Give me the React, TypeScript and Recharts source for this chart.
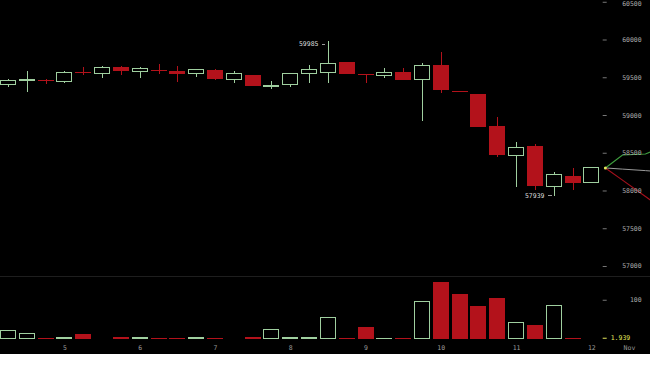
import React from 'react';
import { ComposedChart, Bar, Line, XAxis, YAxis, ReferenceDot } from 'recharts';

// 6h candles, Nov 4 -> Nov 12
const opens = [59411, 59470, 59475, 59457, 59578, 59563, 59642, 59589, 59605, 59589, 59550, 59603, 59483, 59536, 59398, 59417, 59550, 59576, 59709, 59553, 59536, 59576, 59483, 59669, 59328, 59285, 58861, 58464, 58596, 58066, 58199, 58106];
const highs = [59483, 59589, 59483, 59593, 59647, 59650, 59656, 59646, 59682, 59656, 59616, 59610, 59593, 59540, 59461, 59555, 59665, 59985, 59712, 59555, 59629, 59629, 59695, 59841, 59330, 59290, 58980, 58649, 58623, 58252, 58305, 58310];
const lows = [59377, 59311, 59417, 59434, 59532, 59497, 59536, 59497, 59550, 59444, 59514, 59475, 59434, 59385, 59347, 59381, 59434, 59430, 59545, 59430, 59497, 59465, 58927, 59298, 59318, 58843, 58450, 58053, 58013, 57939, 58013, 58100];
const closes = [59470, 59475, 59468, 59576, 59572, 59642, 59589, 59629, 59600, 59550, 59603, 59483, 59550, 59391, 59404, 59550, 59603, 59695, 59550, 59547, 59576, 59470, 59656, 59338, 59322, 58848, 58477, 58570, 58066, 58225, 58106, 58305];
const volumes = [24, 15, 3, 4, 13, 1.5, 4, 4, 2, 2, 4, 2, 2, 4, 27, 4, 4, 57, 3, 32, 3, 3, 99, 146, 115, 86, 105, 43, 37, 89, 3, 1.939];

const dayTicks = [3, 7, 11, 15, 19, 23, 27, 31, 33];
const dayLabels = ['5', '6', '7', '8', '9', '10', '11', '12', 'Nov'];

const priceTicks = [57000, 57500, 58000, 58500, 59000, 59500, 60000, 60500];
const volumeTicks = [100];

// projection fan after the last candle (x in candle slots)
const forecastX = [31.72, 32.63, 33.85, 34.11];
const forecastUp = [58305, 58477, 58490, 58517];
const forecastMid = [58305, 58290, 58270, 58265];
const forecastDown = [58305, 58144, 57927, 57881];

const SLOTS = 35;
const SLOT_W = 18.82;
const CHART_W = SLOTS * SLOT_W;
const UP = '#9fcf9f';
const DOWN = '#b3121b';
const FONT = '"DejaVu Sans Mono", monospace';

const rows = Array.from({ length: SLOTS }, (_, i) =>
  i < opens.length
    ? { i, open: opens[i], high: highs[i], low: lows[i], close: closes[i], volume: volumes[i] }
    : { i }
);

const forecast = forecastX.map((x, k) => ({
  x,
  up: forecastUp[k],
  mid: forecastMid[k],
  down: forecastDown[k],
}));

const maxHigh = Math.max(...highs);
const minLow = Math.min(...lows);
const lastVol = volumes[volumes.length - 1];

function Candle(props: any) {
  const { x, y, width, height, payload } = props;
  if (payload?.open == null || height == null || isNaN(height)) return null;
  const top = Math.min(y, y + height);
  const h = Math.abs(height);
  const { open, close, high, low } = payload;
  const k = high > low ? h / (high - low) : 0;
  const py = (v: number) => top + (high - v) * k;
  const up = close >= open;
  const color = up ? UP : DOWN;
  const cx = Math.round(x + width / 2) + 0.5;
  const bTop = py(Math.max(open, close));
  const bh = Math.max(1, py(Math.min(open, close)) - bTop);

  return (
    <g shapeRendering="crispEdges">
      <line x1={cx} x2={cx} y1={top} y2={bTop} stroke={color} />
      <line x1={cx} x2={cx} y1={bTop + bh} y2={top + h} stroke={color} />
      {up ? (
        <rect x={x + 0.5} y={bTop} width={width - 1} height={bh} fill="#000" stroke={color} />
      ) : (
        <rect x={x} y={bTop} width={width} height={bh} fill={color} />
      )}
      {high === maxHigh && (
        <g>
          <text x={cx - 10} y={top + 3} textAnchor="end" dominantBaseline="central" fontSize={6.5} fontFamily={FONT} fill="#ddd">
            {high}
          </text>
          <line x1={cx - 6} x2={cx - 3} y1={top + 3} y2={top + 3} stroke="#999" />
        </g>
      )}
      {low === minLow && (
        <g>
          <text x={cx - 10} y={top + h} textAnchor="end" dominantBaseline="central" fontSize={6.5} fontFamily={FONT} fill="#ddd">
            {low}
          </text>
          <line x1={cx - 6} x2={cx - 2} y1={top + h} y2={top + h} stroke="#999" />
        </g>
      )}
    </g>
  );
}

function VolBar(props: any) {
  const { x, y, width, height, payload } = props;
  if (payload?.volume == null || height == null || isNaN(height)) return null;
  const up = payload.close >= payload.open;
  const top = Math.min(y, y + height);
  const h = Math.max(1, Math.abs(height));
  return up ? (
    <rect x={x + 0.5} y={top + 0.5} width={width - 1} height={Math.max(0, h - 1)} fill="none" stroke={UP} shapeRendering="crispEdges" />
  ) : (
    <rect x={x} y={top} width={width} height={h} fill={DOWN} shapeRendering="crispEdges" />
  );
}

// axis x passed in is the plot's right edge (mirrored, no tick offset)
function PriceTick(props: any) {
  const { x, y, payload } = props;
  const ty = Math.max(y, 4); // keep the top label readable
  return (
    <g>
      <line x1={x - 55} x2={x - 51} y1={y} y2={y} stroke="#777" />
      <text x={x - 16} y={ty} textAnchor="end" dominantBaseline="central" fontSize={6.5} fontFamily={FONT} fill="#aaa">
        {payload.value}
      </text>
    </g>
  );
}

function VolTick(props: any) {
  const { x, y, payload } = props;
  const isLast = payload.value === lastVol;
  return (
    <g>
      <line x1={x - 55} x2={x - 51} y1={y} y2={y} stroke={isLast ? '#e6e85c' : '#777'} />
      <text
        x={isLast ? x - 47 : x - 16}
        y={y}
        textAnchor={isLast ? 'start' : 'end'}
        dominantBaseline="central"
        fontSize={6.5}
        fontFamily={FONT}
        fill={isLast ? '#e6e85c' : '#aaa'}
      >
        {isLast ? Number(payload.value).toFixed(3) : payload.value}
      </text>
    </g>
  );
}

function DayTick(props: any) {
  const { x, y, payload } = props;
  const label = dayLabels[dayTicks.indexOf(payload.value)];
  return (
    <text x={x} y={y + 9} textAnchor="middle" dominantBaseline="central" fontSize={6.5} fontFamily={FONT} fill="#999">
      {label}
    </text>
  );
}

const noMargin = { top: 0, right: 0, bottom: 0, left: 0 };

export default function App() {
  return (
    <div style={{ position: 'fixed', left: 0, top: 0, width: 650, height: 365, background: '#fff', overflow: 'hidden' }}>
      <div style={{ position: 'absolute', left: 0, top: 0, width: 650, height: 354, background: '#000', overflow: 'hidden' }}>
        <div style={{ position: 'absolute', left: -1.4, top: 0 }}>
          <ComposedChart width={CHART_W} height={276} data={rows} margin={noMargin}>
            <XAxis dataKey="i" hide />
            <XAxis xAxisId="f" type="number" dataKey="x" domain={[-0.5, SLOTS - 0.5]} hide allowDataOverflow />
            <YAxis
              orientation="right"
              mirror
              domain={[56874, 60530]}
              ticks={priceTicks}
              width={1}
              axisLine={false}
              tickLine={false}
              tickSize={0}
              tickMargin={0}
              tick={<PriceTick />}
              allowDataOverflow
              interval={0}
            />
            <Bar
              dataKey={(d: any) => (d.open == null ? null : [d.low, d.high])}
              barSize={16}
              shape={<Candle />}
              activeBar={false}
              isAnimationActive={false}
            />
            <Line xAxisId="f" data={forecast} dataKey="mid" stroke="#9a9a9a" strokeWidth={1} dot={false} activeDot={false} isAnimationActive={false} />
            <Line xAxisId="f" data={forecast} dataKey="down" stroke="#a3101c" strokeWidth={1.2} dot={false} activeDot={false} isAnimationActive={false} />
            <Line xAxisId="f" data={forecast} dataKey="up" stroke="#3f9f3f" strokeWidth={1.2} dot={false} activeDot={false} isAnimationActive={false} />
            <ReferenceDot xAxisId="f" x={forecastX[0]} y={forecastUp[0]} r={1.5} fill="#e6e85c" stroke="none" />
          </ComposedChart>
        </div>
        <div style={{ position: 'absolute', left: 0, top: 276, width: 650, height: 1, background: '#1e1e1e' }} />
        <div style={{ position: 'absolute', left: -1.4, top: 277 }}>
          <ComposedChart width={CHART_W} height={77} data={rows} margin={noMargin}>
            <XAxis
              dataKey="i"
              ticks={dayTicks}
              interval={0}
              height={15}
              axisLine={false}
              tickLine={false}
              tickSize={0}
              tickMargin={0}
              tick={<DayTick />}
            />
            <YAxis
              orientation="right"
              mirror
              domain={[0, 160]}
              ticks={[lastVol, ...volumeTicks]}
              width={1}
              axisLine={false}
              tickLine={false}
              tickSize={0}
              tickMargin={0}
              tick={<VolTick />}
              interval={0}
              allowDataOverflow
            />
            <Bar dataKey="volume" barSize={16} shape={<VolBar />} activeBar={false} isAnimationActive={false} />
          </ComposedChart>
        </div>
      </div>
    </div>
  );
}
